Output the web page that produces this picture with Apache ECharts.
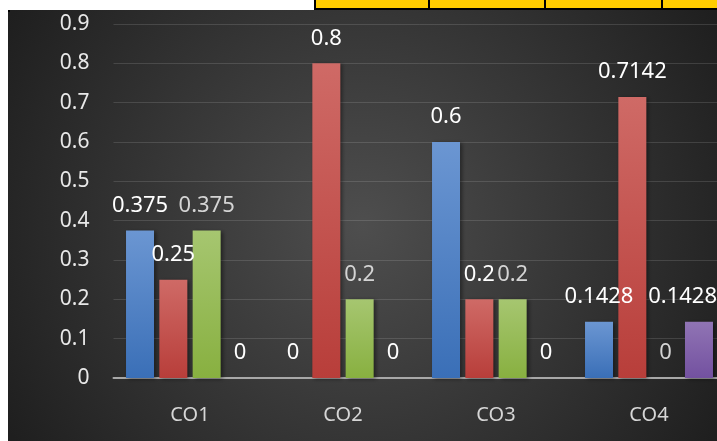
<!DOCTYPE html>
<html>
<head>
<meta charset="utf-8">
<script src="https://cdn.jsdelivr.net/npm/echarts@6/dist/echarts.min.js"></script>
<style>
html,body{margin:0;padding:0;background:#fff;overflow:hidden;width:717px;height:441px;}
#chart{width:760px;height:441px;}
</style>
</head>
<body>
<div id="chart"></div>
<script>
const categories = ['CO1', 'CO2', 'CO3', 'CO4'];
const series1 = [0.375, 0, 0.6, 0.1428];
const series2 = [0.25, 0.8, 0.2, 0.7142];
const series3 = [0.375, 0.2, 0.2, 0];
const series4 = [0, 0, 0, 0.1428];
const yTicks = [0, 0.1, 0.2, 0.3, 0.4, 0.5, 0.6, 0.7, 0.8, 0.9];

const FONT = '"Noto Sans", sans-serif';
const VIEW_RIGHT = 717;

function grad(top, bottom) {
  return new echarts.graphic.LinearGradient(0, 0, 0, 1, [
    {offset: 0, color: top}, {offset: 1, color: bottom}
  ]);
}

function makeSeries(name, data, top, bottom, labelColor) {
  return {
    name: name,
    type: 'bar',
    data: data,
    barWidth: 28,
    barGap: '19%',
    itemStyle: {
      color: grad(top, bottom),
      shadowColor: 'rgba(0,0,0,0.45)',
      shadowBlur: 4,
      shadowOffsetX: 2,
      shadowOffsetY: 1
    },
    label: {
      show: true,
      position: 'top',
      distance: 14,
      color: labelColor,
      fontFamily: FONT,
      fontSize: 22,
      formatter: function (p) { return String(p.value); }
    },
    labelLayout: function (params) {
      const r = params.labelRect;
      if (r.x + r.width > VIEW_RIGHT) {
        return {x: VIEW_RIGHT - r.width, y: r.y, align: 'left', verticalAlign: 'top'};
      }
      return {};
    }
  };
}

const chart = echarts.init(document.getElementById('chart'), null, {renderer: 'canvas'});
chart.setOption({
  animation: false,
  backgroundColor: '#ffffff',
  graphic: [
    {
      type: 'rect', z: -100, silent: true,
      shape: {x: 8, y: 10, width: 709, height: 431},
      style: {
        fill: new echarts.graphic.RadialGradient(0.5, 0.5, 0.95, [
          {offset: 0, color: '#4e4e4e'},
          {offset: 1, color: '#1f1f1f'}
        ])
      }
    },
    {type: 'rect', z: 100, silent: true, shape: {x: 8, y: 10, width: 2, height: 2}, style: {fill: '#000'}},
    {type: 'rect', z: 100, silent: true, shape: {x: 315, y: 0, width: 445, height: 9}, style: {fill: '#ffcc00'}},
    {type: 'rect', z: 101, silent: true, shape: {x: 315, y: 8, width: 445, height: 2}, style: {fill: '#000'}},
    {type: 'rect', z: 101, silent: true, shape: {x: 314, y: 0, width: 2, height: 10}, style: {fill: '#000'}},
    {type: 'rect', z: 101, silent: true, shape: {x: 428, y: 0, width: 2, height: 10}, style: {fill: '#000'}},
    {type: 'rect', z: 101, silent: true, shape: {x: 544, y: 0, width: 2, height: 10}, style: {fill: '#000'}},
    {type: 'rect', z: 101, silent: true, shape: {x: 661, y: 0, width: 2, height: 10}, style: {fill: '#000'}}
  ],
  grid: {left: 113.5, top: 24, width: 612, height: 354, containLabel: false, outerBoundsMode: 'none'},
  xAxis: {
    type: 'category',
    data: categories,
    axisLine: {show: true, lineStyle: {color: '#a8a8a8', width: 2}},
    axisTick: {show: false},
    axisLabel: {color: '#d6d6d6', fontFamily: FONT, fontSize: 20, margin: 27},
    splitLine: {show: false}
  },
  yAxis: {
    type: 'value',
    min: yTicks[0],
    max: yTicks[yTicks.length - 1],
    interval: 0.1,
    axisLine: {show: false},
    axisTick: {show: false},
    axisLabel: {
      color: '#e8e8e8', fontFamily: FONT, fontSize: 21, margin: 24,
      formatter: function (v) { return String(Math.round(v * 10) / 10); }
    },
    splitLine: {show: true, lineStyle: {color: 'rgba(255,255,255,0.13)', width: 1}}
  },
  series: [
    makeSeries('Series 1', series1, '#6b96d2', '#3a6fb7', '#ffffff'),
    makeSeries('Series 2', series2, '#cf6a66', '#b83e3a', '#ffffff'),
    makeSeries('Series 3', series3, '#a6c670', '#88b040', '#d4d4d4'),
    makeSeries('Series 4', series4, '#9074b4', '#7351a0', '#ffffff')
  ]
});
</script>
</body>
</html>
